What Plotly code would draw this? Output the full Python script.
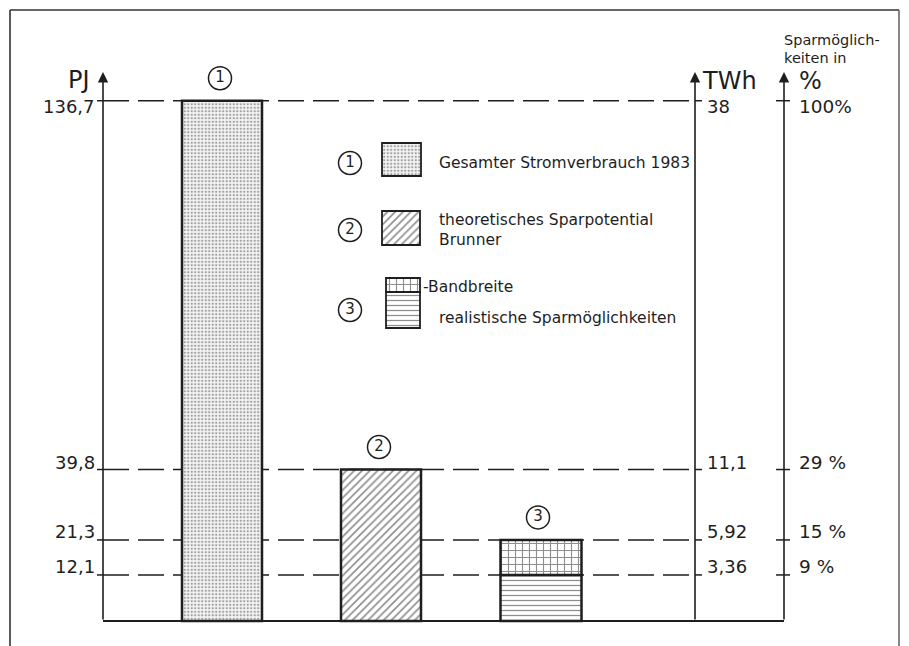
import plotly.graph_objects as go

# ---------------- data ----------------
bar_ids = ["1", "2", "3"]
total_consumption_pj = 136.7          # (1) Gesamter Stromverbrauch 1983
theoretical_pj = 39.8                 # (2) theoretisches Sparpotential Brunner
realistic_low_pj = 12.1               # (3) realistische Sparmöglichkeiten
realistic_high_pj = 21.3              # (3) obere Grenze Bandbreite

tick_values_pj = [136.7, 39.8, 21.3, 12.1]
pj_labels = ["136,7", "39,8", "21,3", "12,1"]
twh_labels = ["38", "11,1", "5,92", "3,36"]
pct_labels = ["100%", "29 %", "15 %", "9 %"]

legend_texts = ["Gesamter Stromverbrauch 1983",
                "theoretisches Sparpotential<br>Brunner",
                "realistische Sparmöglichkeiten"]
band_text = "-Bandbreite"

# ---------------- layout constants (pixel geometry) ----------------
W, H = 909, 646
PAGE_OFF = 8               # default body margin of the html page
FIG_W = W
FIG_H = H
BASE_PX = 621.0            # screen pixel row of value 0
PX_PER_UNIT = 3.806        # pixels per PJ


def py(p):
    """screen pixel row -> y data value"""
    return (BASE_PX - p) / PX_PER_UNIT


Y_MAX = py(PAGE_OFF)
Y_MIN = py(PAGE_OFF + FIG_H)

X_LEFT_AXIS = 103
X_TWH_AXIS = 695
X_PCT_AXIS = 784
AXIS_TIP_PX = 72
bar_centers = [222, 381, 541]
bar_widths = [80, 80, 81]
label_shifts = [-6, 7, 8, 8]   # vertical offset of tick labels (px)

INK = "#1e1e1e"
FONT = "DejaVu Sans"

fig = go.Figure()

# ---------------- bars ----------------
line_style = dict(color=INK, width=2.5)
PAT_DOTS = dict(shape=".", fgcolor="#4a4a4a", bgcolor="#f4f4f4", size=3.5, solidity=0.35)
PAT_DIAG = dict(shape="/", fgcolor=INK, bgcolor="white", size=5.5, solidity=0.3)
PAT_HORZ = dict(shape="-", fgcolor=INK, bgcolor="white", size=5, solidity=0.25)
PAT_BRICK = dict(shape="+", fgcolor=INK, bgcolor="white", size=7, solidity=0.3)

fig.add_trace(go.Bar(
    x=[bar_centers[0]], y=[total_consumption_pj], width=[bar_widths[0]],
    marker=dict(color="white", line=line_style, pattern=PAT_DOTS),
    showlegend=False, hoverinfo="skip"))
fig.add_trace(go.Bar(
    x=[bar_centers[1]], y=[theoretical_pj], width=[bar_widths[1]],
    marker=dict(color="white", line=line_style, pattern=PAT_DIAG),
    showlegend=False, hoverinfo="skip"))
fig.add_trace(go.Bar(
    x=[bar_centers[2]], y=[realistic_low_pj], width=[bar_widths[2]],
    marker=dict(color="white", line=line_style, pattern=PAT_HORZ),
    showlegend=False, hoverinfo="skip"))
fig.add_trace(go.Bar(
    x=[bar_centers[2]], y=[realistic_high_pj - realistic_low_pj],
    base=[realistic_low_pj], width=[bar_widths[2]],
    marker=dict(color="white", line=line_style, pattern=PAT_BRICK),
    showlegend=False, hoverinfo="skip"))

# ---------------- legend swatches ----------------
sw = [
    dict(x=401.5, w=39, top=143, bot=176, pat=PAT_DOTS),
    dict(x=401, w=38, top=211, bot=245, pat=PAT_DIAG),
    dict(x=403, w=34, top=292, bot=328, pat=PAT_HORZ),
    dict(x=403, w=34, top=278, bot=292, pat=PAT_BRICK),
]
for s in sw:
    fig.add_trace(go.Bar(
        x=[s["x"]], y=[py(s["top"]) - py(s["bot"])], base=[py(s["bot"])],
        width=[s["w"]],
        marker=dict(color="white", line=dict(color=INK, width=1.8), pattern=s["pat"]),
        showlegend=False, hoverinfo="skip"))

# ---------------- circled numbers ----------------
bar_tops = [total_consumption_pj, theoretical_pj, realistic_high_pj]
circle_x = [220, 379, 538] + [350, 350, 350]
circle_y = [t + 22.5 / PX_PER_UNIT for t in bar_tops] + [py(163), py(230), py(310)]
fig.add_trace(go.Scatter(
    x=circle_x, y=circle_y, mode="markers+text",
    text=bar_ids + bar_ids,
    textposition="middle center",
    textfont=dict(family=FONT, size=15, color=INK),
    marker=dict(symbol="circle-open", size=23, color=INK, line=dict(width=1.5, color=INK)),
    showlegend=False, hoverinfo="skip"))

shapes = []
# dashed reference lines (behind bars)
for v in tick_values_pj:
    shapes.append(dict(type="line", xref="x", yref="y", layer="below",
                       x0=X_LEFT_AXIS, x1=X_TWH_AXIS, y0=v, y1=v,
                       line=dict(color=INK, width=1.5, dash="26px,9px")))
    # ticks
    shapes.append(dict(type="line", xref="x", yref="y", x0=X_LEFT_AXIS - 6, x1=X_LEFT_AXIS,
                       y0=v, y1=v, line=dict(color=INK, width=1.5)))
    shapes.append(dict(type="line", xref="x", yref="y", x0=X_TWH_AXIS, x1=X_TWH_AXIS + 7,
                       y0=v, y1=v, line=dict(color=INK, width=1.5)))
    shapes.append(dict(type="line", xref="x", yref="y", x0=X_PCT_AXIS - 8, x1=X_PCT_AXIS + 6,
                       y0=v, y1=v, line=dict(color=INK, width=1.5)))
# baseline
shapes.append(dict(type="line", xref="x", yref="y", x0=X_LEFT_AXIS, x1=X_PCT_AXIS,
                   y0=0, y1=0, line=dict(color=INK, width=2)))
# frame (left, top, right)
frame_style = dict(color="#333", width=1.6)
shapes.append(dict(type="line", xref="x", yref="y", x0=10, x1=10, y0=py(10), y1=py(H + 10), line=frame_style))
shapes.append(dict(type="line", xref="x", yref="y", x0=10, x1=899, y0=py(10), y1=py(10), line=frame_style))
shapes.append(dict(type="line", xref="x", yref="y", x0=899, x1=899, y0=py(10), y1=py(H + 10),
                   line=dict(color="#555", width=1.4)))

annotations = []
# axis arrows
for xa in [X_LEFT_AXIS, X_TWH_AXIS, X_PCT_AXIS]:
    annotations.append(dict(x=xa, y=py(AXIS_TIP_PX), ax=xa, ay=0, xref="x", yref="y",
                            axref="x", ayref="y", text="", showarrow=True,
                            arrowhead=2, arrowsize=1.3, arrowwidth=1.6, arrowcolor=INK,
                            standoff=0, startstandoff=0))


def txt(x, y, s, size, xanchor="left", yanchor="middle", yshift=0):
    annotations.append(dict(x=x, y=y, xref="x", yref="y", text=s, showarrow=False,
                            xanchor=xanchor, yanchor=yanchor, yshift=yshift, align="left",
                            font=dict(family=FONT, size=size, color=INK)))


# axis titles
txt(92, py(80), "PJ", 24, xanchor="right")
txt(700, py(81), "TWh", 24)
txt(797, py(81), "%", 24)
txt(782, py(40), "Sparmöglich-", 14.5)
txt(782, py(58), "keiten in", 14.5)

# tick labels
for v, pl, tl, cl, sh in zip(tick_values_pj, pj_labels, twh_labels, pct_labels, label_shifts):
    txt(97, v, pl, 18, xanchor="right", yshift=sh)
    txt(705, v, tl, 18, yshift=sh)
    txt(797, v, cl, 18.5, yshift=sh)

# legend texts
txt(437, py(163), legend_texts[0], 15.5)
txt(437, py(230), legend_texts[1], 15.5)
txt(421, py(287), band_text, 15.5)
txt(437, py(318), legend_texts[2], 15.5)

fig.update_layout(
    width=FIG_W, height=FIG_H, margin=dict(l=0, r=0, t=0, b=0),
    paper_bgcolor="white", plot_bgcolor="white",
    barmode="overlay", showlegend=False,
    xaxis=dict(range=[PAGE_OFF, PAGE_OFF + FIG_W], visible=False, fixedrange=True),
    yaxis=dict(range=[Y_MIN, Y_MAX], visible=False, fixedrange=True),
    shapes=shapes, annotations=annotations,
    font=dict(family=FONT),
)

fig.write_html("out.html")
